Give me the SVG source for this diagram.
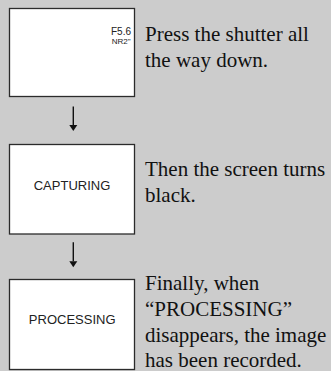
<svg xmlns="http://www.w3.org/2000/svg" width="331" height="371" viewBox="0 0 331 371">
<style>
.bg{fill:#cccccc}
.box{fill:#ffffff;stroke:#2b2b2b;stroke-width:1.3}
.cap{font-family:"Liberation Sans",Arial,sans-serif;fill:#222;text-anchor:middle;font-size:13px}
.small{font-family:"Liberation Sans",Arial,sans-serif;fill:#222;text-anchor:end}
.desc{font-family:'Liberation Serif','Times New Roman','DejaVu Serif',serif;font-size:21px;fill:#111}
.conn{stroke:#111;stroke-width:1.4;fill:none}
</style>
<rect class="bg" x="0" y="0" width="331" height="371"/>
<g id="step1">
<rect class="box" x="9.5" y="8.5" width="125" height="88"/>
<text class="small" x="131" y="34.5" font-size="10">F5.6</text>
<text class="small" x="130.5" y="43.5" font-size="8">NR2"</text>
<text class="desc" x="145" y="41">Press the shutter all</text>
<text class="desc" x="145" y="67">the way down.</text>
</g>
<g id="step2">
<rect class="box" x="9.5" y="144.5" width="125" height="89.5"/>
<text class="cap" x="72" y="190">CAPTURING</text>
<text class="desc" x="145" y="175.7">Then the screen turns</text>
<text class="desc" x="145" y="201.7">black.</text>
</g>
<g id="step3">
<rect class="box" x="9.5" y="279.5" width="125" height="90"/>
<text class="cap" x="72.2" y="324.3">PROCESSING</text>
<text class="desc" x="145" y="290">Finally, when</text>
<text class="desc" x="145" y="315.7">“PROCESSING”</text>
<text class="desc" x="145" y="341.5">disappears, the image</text>
<text class="desc" x="145" y="367">has been recorded.</text>
</g>
<g id="connectors">
<line class="conn" x1="73.3" y1="106.5" x2="73.3" y2="125"/>
<path d="M69.3,125 L77.3,125 L73.3,131 Z" fill="#111"/>
<line class="conn" x1="73.3" y1="242.3" x2="73.3" y2="261.3"/>
<path d="M69.3,261.3 L77.3,261.3 L73.3,267.3 Z" fill="#111"/>
</g>
</svg>
